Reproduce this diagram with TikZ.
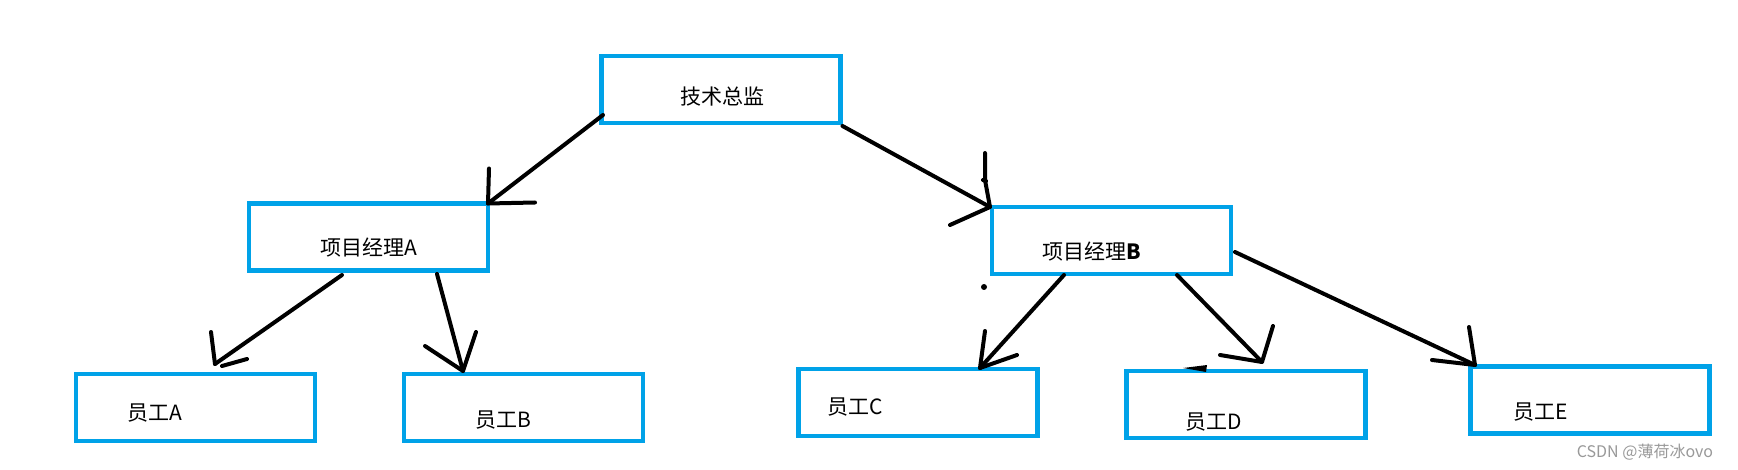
\documentclass[tikz,border=0pt]{standalone}
\usepackage{fontspec}
\setmainfont{Noto Sans CJK SC}
\usetikzlibrary{calc}
\definecolor{paintblue}{RGB}{0,162,232}
\begin{document}
\begin{tikzpicture}[x=1pt,y=-1pt,
  box/.style={draw=paintblue,line width=4.2pt,minimum width=239pt,minimum height=67pt,inner sep=0pt,outer sep=0pt},
  lbl/.style={inner sep=0pt,font=\fontsize{21}{21}\selectfont},
  wmark/.style={inner sep=0pt,text=black!40,font=\fontsize{16}{16}\selectfont},
  pen/.style={line width=4pt,line cap=round,line join=round,draw=black}]
\useasboundingbox[fill=white] (0,0) rectangle (1738,470);
% boxes
\node[box] (T)  at (721,89.5) {};
\node[box] (PA) at (368.5,237) {};
\node[box] (PB) at (1111.5,240.5) {};
\node[box] (EA) at (195.5,407.5) {};
\node[box] (EB) at (523.5,407.5) {};
\node[box] (EC) at (918,402.5) {};
\node[box] (ED) at (1246,404.5) {};
\node[box] (EE) at (1590,400) {};
% labels
\node[lbl] (tT)  at (722,97) {技术总监};
\node[lbl] (tPA) at (369,248) {项目经理A};
\node[lbl] (tPB) at (1092,252) {项目经理\textbf{B}};
\node[lbl] (tEA) at (155,413) {员工A};
\node[lbl] (tEB) at (503,420) {员工B};
\node[lbl] (tEC) at (855,407) {员工C};
\node[lbl] (tED) at (1214,422) {员工D};
\node[lbl] (tEE) at (1541,412) {员工E};
\node[wmark] (wm) at (1645,452) {CSDN @薄荷冰ovo};
% T -> PA
\coordinate (t1) at (PA.north east);
\draw[pen] ($(T.south west)+(1.5,-8)$) -- (t1);
\draw[pen] ($(t1)+(1,-35)$) -- (t1) -- ($(t1)+(47,-1)$);
% T -> PB
\coordinate (t2) at ($(PB.north west)+(-2,0)$);
\draw[pen] ($(T.south east)+(2,3)$) -- (t2);
\draw[pen] ($(t2)+(-5,-54)$) -- ($(t2)+(-5,-27)$) -- (t2) -- ($(t2)+(-40,18)$);
\draw[pen] ($(t2)+(-7,-27)$) -- ($(t2)+(-4,-26)$);
% PA -> EA
\coordinate (t3) at ($(EA.north)+(19.5,-10)$);
\draw[pen] ($(PA.south)+(-26.5,4.5)$) -- (t3);
\draw[pen] ($(t3)+(-4,-32)$) -- (t3);
\draw[pen] ($(t3)+(7,2)$) -- ($(t3)+(32,-5)$);
% PA -> EB
\coordinate (t4) at ($(EB.north)+(-60.5,-3)$);
\draw[pen] ($(PA.south)+(68.5,3.5)$) -- (t4);
\draw[pen] ($(t4)+(-38,-25)$) -- (t4) -- ($(t4)+(13,-39)$);
% PB -> EC
\coordinate (t5) at ($(EC.north)+(62,-1)$);
\draw[pen] ($(PB.south)+(-47.5,1)$) -- (t5);
\draw[pen] ($(t5)+(5,-37)$) -- (t5) -- ($(t5)+(37,-13)$);
% PB -> ED
\coordinate (t6) at ($(ED.north)+(16,-9)$);
\draw[pen] ($(PB.south)+(65.5,1)$) -- (t6);
\draw[pen] ($(t6)+(11,-36)$) -- (t6) -- ($(t6)+(-42,-7)$);
\fill ($(ED.north)+(-63,-3)$) -- ($(ED.north)+(-39,-6)$) -- ($(ED.north)+(-40,1)$) -- cycle;
% PB -> EE
\coordinate (t7) at ($(EE.north west)+(4.5,-1.5)$);
\draw[pen] ($(PB.east)+(4,11.5)$) -- (t7);
\draw[pen] ($(t7)+(-6,-38)$) -- (t7) -- ($(t7)+(-43,-5)$);
% stray dot
\fill (984,287) circle (3);
\end{tikzpicture}
\end{document}
